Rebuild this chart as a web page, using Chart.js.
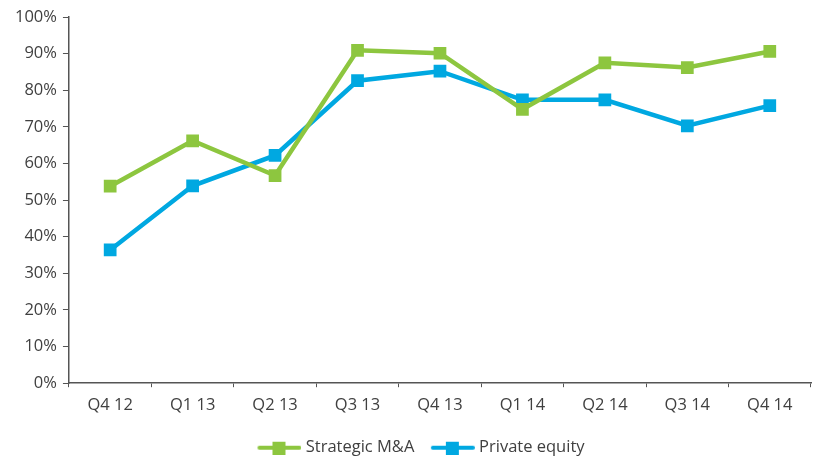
<!DOCTYPE html>
<html>
<head>
<meta charset="utf-8">
<script src="https://cdn.jsdelivr.net/npm/chart.js@4"></script>
<style>
  body { margin: 0; background: #fff; }
  #wrap { width: 825px; height: 462px; }
</style>
</head>
<body>
<div id="wrap"><canvas id="chart" width="825" height="462"></canvas></div>
<script>
const quarters = ['Q4 12', 'Q1 13', 'Q2 13', 'Q3 13', 'Q4 13', 'Q1 14', 'Q2 14', 'Q3 14', 'Q4 14'];
const strategicMA = [53.8, 66.2, 56.7, 90.9, 90.1, 74.8, 87.5, 86.2, 90.6];
const privateEquity = [36.4, 53.9, 62.2, 82.6, 85.2, 77.4, 77.4, 70.3, 75.8];
const yTicks = [0, 10, 20, 30, 40, 50, 60, 70, 80, 90, 100];

const green = '#8DC63F';
const blue = '#00A8E1';
const axisColor = '#555';
const textColor = '#404040';
const fontSpec = { family: 'Open Sans', size: 16.5 };

// legend symbol: short line with a square in the middle (left margin gives item spacing)
function legendIcon(color) {
    const c = document.createElement('canvas');
    c.width = 52; c.height = 14;
    const g = c.getContext('2d');
    g.strokeStyle = color;
    g.lineWidth = 4;
    g.lineCap = 'round';
    g.beginPath();
    g.moveTo(10, 7);
    g.lineTo(50, 7);
    g.stroke();
    g.fillStyle = color;
    g.fillRect(23, 1, 13, 13);
    return c;
}

// nudge the legend a little right and down, as in the original
const legendShift = {
    id: 'legendShift',
    afterLayout(chart) {
        chart.legend.left += 9;
        chart.legend.right += 9;
        chart.legend.top += 4;
        chart.legend.bottom += 4;
    }
};

const ctx = document.getElementById('chart').getContext('2d');
new Chart(ctx, {
    type: 'line',
    data: {
        labels: quarters,
        datasets: [{
            label: 'Strategic M&A',
            data: strategicMA,
            borderColor: green,
            backgroundColor: green,
            borderWidth: 4.5,
            pointStyle: 'rect',
            pointRadius: 9,
            pointHoverRadius: 9,
            pointBorderWidth: 0,
            tension: 0,
            fill: false
        }, {
            label: 'Private equity',
            data: privateEquity,
            borderColor: blue,
            backgroundColor: blue,
            borderWidth: 4.5,
            pointStyle: 'rect',
            pointRadius: 9,
            pointHoverRadius: 9,
            pointBorderWidth: 0,
            tension: 0,
            fill: false
        }]
    },
    plugins: [legendShift],
    options: {
        responsive: false,
        animation: false,
        layout: { padding: { left: 9, right: 14, top: 17, bottom: 0 } },
        plugins: {
            tooltip: { enabled: false },
            legend: {
                position: 'bottom',
                labels: {
                    usePointStyle: true,
                    pointStyleWidth: 44,
                    color: textColor,
                    font: fontSpec,
                    padding: 12.5,
                    generateLabels: function(chart) {
                        return chart.data.datasets.map(function(ds, i) {
                            return {
                                text: ds.label,
                                pointStyle: legendIcon(ds.borderColor),
                                fillStyle: ds.borderColor,
                                strokeStyle: ds.borderColor,
                                lineWidth: 0,
                                fontColor: textColor,
                                datasetIndex: i,
                                hidden: false
                            };
                        });
                    }
                }
            }
        },
        scales: {
            x: {
                offset: true,
                grid: {
                    display: true,
                    drawOnChartArea: false,
                    offset: true,
                    color: axisColor,
                    tickLength: 4
                },
                border: { color: axisColor, width: 1.5 },
                ticks: {
                    color: textColor,
                    font: fontSpec,
                    padding: 8,
                    maxRotation: 0
                }
            },
            y: {
                min: 0,
                max: 100,
                afterBuildTicks: function(axis) {
                    axis.ticks = yTicks.map(function(v) { return { value: v }; });
                },
                grid: {
                    display: true,
                    drawOnChartArea: false,
                    color: axisColor,
                    tickLength: 6
                },
                border: { color: axisColor, width: 1.5 },
                ticks: {
                    color: textColor,
                    font: fontSpec,
                    padding: 6,
                    callback: function(v) { return v + '%'; }
                }
            }
        }
    }
});
</script>
</body>
</html>
